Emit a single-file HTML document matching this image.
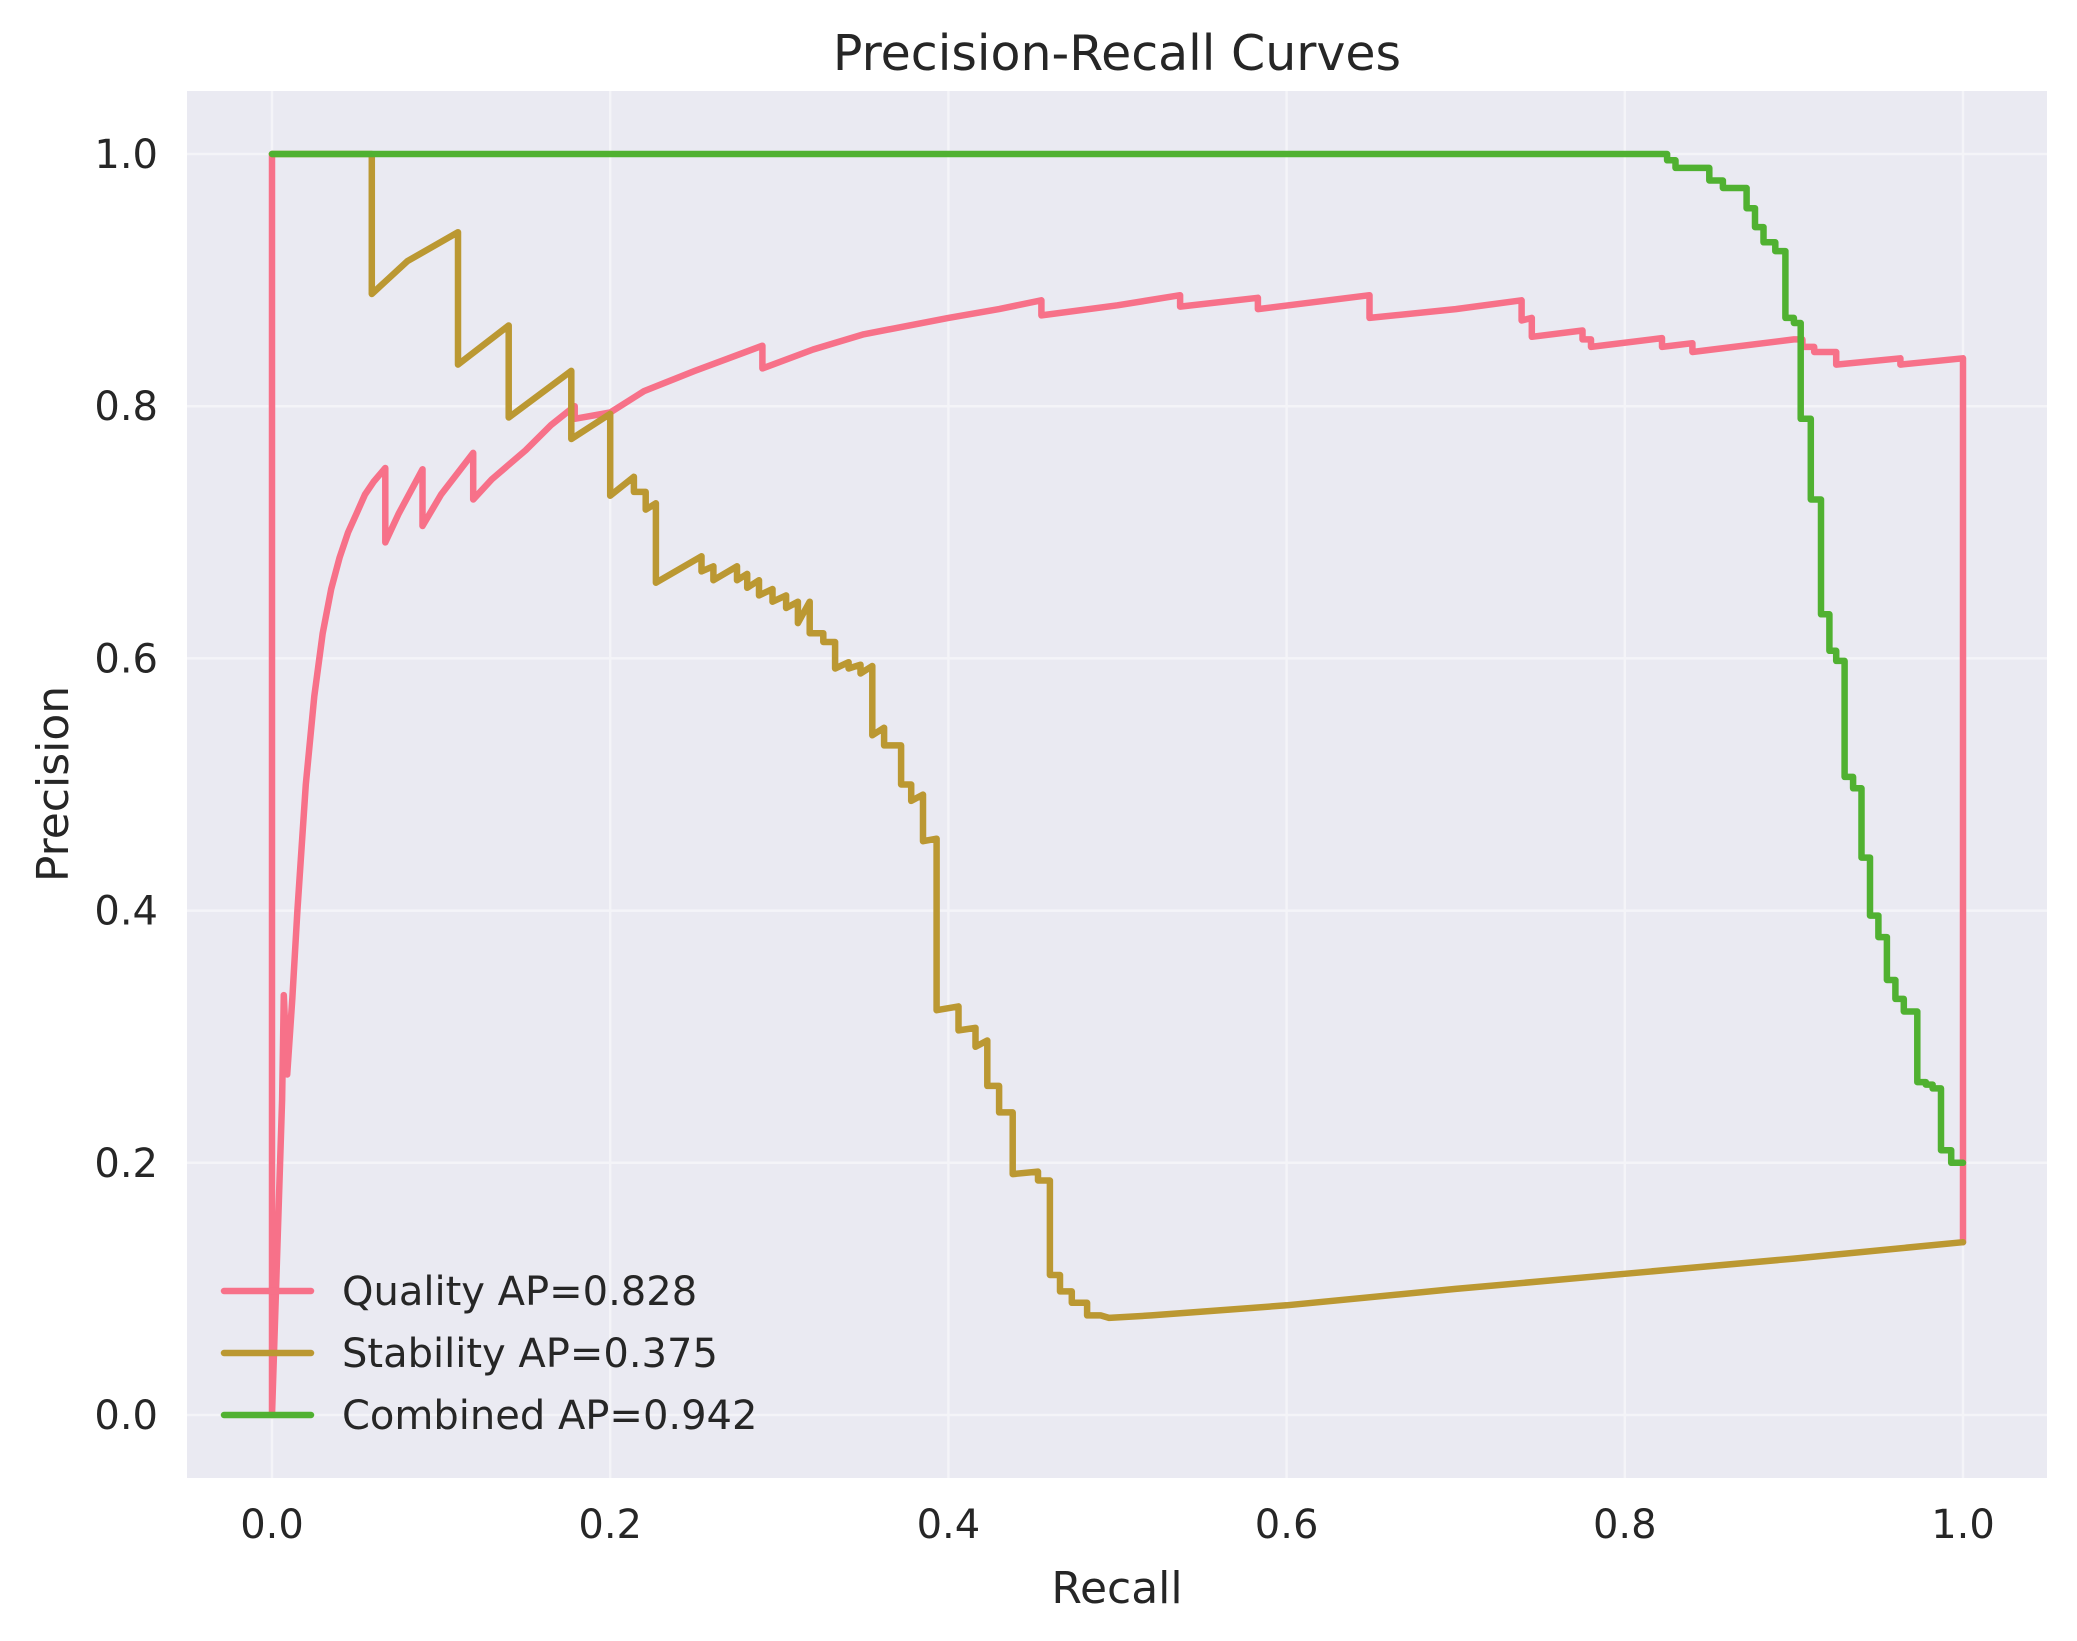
<!DOCTYPE html>
<html><head><meta charset="utf-8"><style>
html,body{margin:0;padding:0;background:#fff;}
svg{display:block;font-family:"DejaVu Sans","Liberation Sans",sans-serif;}
</style></head><body>
<svg id="chart" width="2077" height="1641" viewBox="0 0 2077 1641">
<rect x="187" y="91" width="1860" height="1387" fill="#eaeaf2"/>
<g id="grid"></g>
<g id="series"></g>
<g id="ticks"></g>
<text x="1117" y="70" font-size="49" text-anchor="middle" fill="#262626">Precision-Recall Curves</text>
<text x="1117" y="1603" font-size="44" text-anchor="middle" fill="#262626">Recall</text>
<text x="0" y="0" font-size="44" text-anchor="middle" fill="#262626" transform="translate(68,784) rotate(-90)">Precision</text>
<g id="legend"></g>
</svg>
<script>
const xTicks = [0, 0.2, 0.4, 0.6, 0.8, 1.0];
const yTicks = [0, 0.2, 0.4, 0.6, 0.8, 1.0];
const tickLabels = ["0.0", "0.2", "0.4", "0.6", "0.8", "1.0"];
const seriesNames = ["Quality AP=0.828", "Stability AP=0.375", "Combined AP=0.942"];
const seriesColors = ["#f77189", "#bb9832", "#50b131"];

const qualityRecall = [0,0,0.006,0.007,0.009,0.012,0.015,0.02,0.025,0.03,0.035,0.04,0.045,0.05,0.055,0.06,0.067,0.067,0.075,0.089,0.089,0.1,0.119,0.119,0.13,0.15,0.165,0.179,0.179,0.2,0.22,0.25,0.27,0.29,0.29,0.32,0.35,0.4,0.43,0.455,0.455,0.5,0.537,0.537,0.583,0.583,0.649,0.649,0.7,0.739,0.739,0.745,0.745,0.775,0.775,0.78,0.78,0.822,0.822,0.84,0.84,0.9,0.905,0.905,0.912,0.912,0.925,0.925,0.963,0.963,1.0,1.0];
const qualityPrecision = [1,0,0.25,0.333,0.27,0.33,0.4,0.5,0.57,0.62,0.655,0.68,0.7,0.715,0.73,0.74,0.751,0.692,0.715,0.75,0.705,0.73,0.763,0.726,0.742,0.765,0.785,0.8,0.79,0.795,0.812,0.828,0.838,0.848,0.83,0.845,0.857,0.87,0.877,0.884,0.872,0.88,0.888,0.879,0.886,0.877,0.888,0.87,0.877,0.884,0.868,0.87,0.855,0.86,0.853,0.853,0.847,0.854,0.847,0.85,0.843,0.853,0.853,0.847,0.847,0.843,0.843,0.833,0.838,0.833,0.838,0.137];

const stabilityRecall = [0,0.059,0.059,0.08,0.11,0.11,0.14,0.14,0.177,0.177,0.2,0.2,0.214,0.214,0.221,0.221,0.227,0.227,0.254,0.254,0.261,0.261,0.275,0.275,0.281,0.281,0.288,0.288,0.296,0.296,0.304,0.304,0.311,0.311,0.318,0.318,0.326,0.326,0.333,0.333,0.341,0.341,0.348,0.348,0.355,0.355,0.362,0.362,0.372,0.372,0.378,0.378,0.385,0.385,0.393,0.393,0.406,0.406,0.416,0.416,0.423,0.423,0.43,0.43,0.438,0.438,0.453,0.453,0.46,0.46,0.466,0.466,0.473,0.473,0.482,0.482,0.49,0.495,0.52,0.55,0.6,0.7,0.8,0.9,1.0];
const stabilityPrecision = [1,1,0.889,0.915,0.938,0.833,0.864,0.791,0.828,0.774,0.794,0.729,0.744,0.732,0.732,0.718,0.723,0.66,0.681,0.669,0.673,0.662,0.673,0.662,0.667,0.656,0.662,0.65,0.655,0.645,0.65,0.64,0.645,0.628,0.645,0.62,0.62,0.613,0.613,0.592,0.597,0.592,0.595,0.588,0.594,0.539,0.545,0.531,0.531,0.5,0.5,0.487,0.492,0.455,0.457,0.321,0.324,0.305,0.307,0.292,0.297,0.261,0.261,0.24,0.24,0.191,0.193,0.186,0.186,0.111,0.111,0.098,0.098,0.089,0.089,0.079,0.079,0.077,0.079,0.082,0.087,0.1,0.112,0.124,0.137];

const combinedRecall = [0,0.825,0.825,0.83,0.83,0.85,0.85,0.858,0.858,0.872,0.872,0.877,0.877,0.882,0.882,0.889,0.889,0.895,0.895,0.9,0.9,0.904,0.904,0.91,0.91,0.916,0.916,0.921,0.921,0.925,0.925,0.93,0.93,0.935,0.935,0.94,0.94,0.945,0.945,0.95,0.95,0.955,0.955,0.96,0.96,0.965,0.965,0.973,0.973,0.978,0.978,0.982,0.982,0.987,0.987,0.993,0.993,1.0];
const combinedPrecision = [1,1,0.995,0.995,0.989,0.989,0.979,0.979,0.973,0.973,0.957,0.957,0.942,0.942,0.93,0.93,0.923,0.923,0.87,0.87,0.866,0.866,0.79,0.79,0.726,0.726,0.635,0.635,0.606,0.606,0.598,0.598,0.506,0.506,0.497,0.497,0.442,0.442,0.396,0.396,0.379,0.379,0.345,0.345,0.33,0.33,0.32,0.32,0.264,0.264,0.262,0.262,0.259,0.259,0.21,0.21,0.2,0.2];

const NS = "http://www.w3.org/2000/svg";
const X0 = 272, XW = 1691, Y0 = 1415, YH = 1261;
function sx(v){ return X0 + v * XW; }
function sy(v){ return Y0 - v * YH; }
function mk(tag, attrs, parent){ const e = document.createElementNS(NS, tag); for (const k in attrs) e.setAttribute(k, attrs[k]); parent.appendChild(e); return e; }

const grid = document.getElementById("grid");
const ticks = document.getElementById("ticks");
xTicks.forEach((t, i) => {
  const l = mk("line", {x1: sx(t), x2: sx(t), y1: 91, y2: 1478, stroke: "#f4f4f8", "stroke-width": 2.5}, grid);
  
  
  const tx = mk("text", {x: sx(t), y: 1538, "font-size": 40, "text-anchor": "middle", fill: "#262626"}, ticks);
  tx.textContent = tickLabels[i];
  
  
});
yTicks.forEach((t, i) => {
  const l = mk("line", {x1: 187, x2: 2047, y1: sy(t), y2: sy(t), stroke: "#f4f4f8", "stroke-width": 2.5}, grid);
  
  
  const tx = mk("text", {x: 158, y: sy(t) + 14, "font-size": 40, "text-anchor": "end", fill: "#262626"}, ticks);
  tx.textContent = tickLabels[i];
  
  
});

const series = document.getElementById("series");
const allX = [qualityRecall, stabilityRecall, combinedRecall];
const allY = [qualityPrecision, stabilityPrecision, combinedPrecision];
const seriesKeys = ["quality-curve", "stability-curve", "combined-curve"];
for (let s = 0; s < 3; s++) {
  const pts = allX[s].map((x, i) => sx(x).toFixed(1) + "," + sy(allY[s][i]).toFixed(1)).join(" ");
  const pl = mk("polyline", {points: pts, fill: "none", stroke: seriesColors[s], "stroke-width": 6.5, "stroke-linejoin": "round", "stroke-linecap": "round"}, series);
  
  
}

const legend = document.getElementById("legend");
const legendY = [1291, 1353, 1415];
for (let s = 0; s < 3; s++) {
  const ln = mk("line", {x1: 224, x2: 311, y1: legendY[s], y2: legendY[s], stroke: seriesColors[s], "stroke-width": 6.5, "stroke-linecap": "round"}, legend);
  
  
  const tx = mk("text", {x: 342, y: legendY[s] + 14, "font-size": 40, fill: "#262626"}, legend);
  tx.textContent = seriesNames[s];
  
  
}
</script>
</body></html>
